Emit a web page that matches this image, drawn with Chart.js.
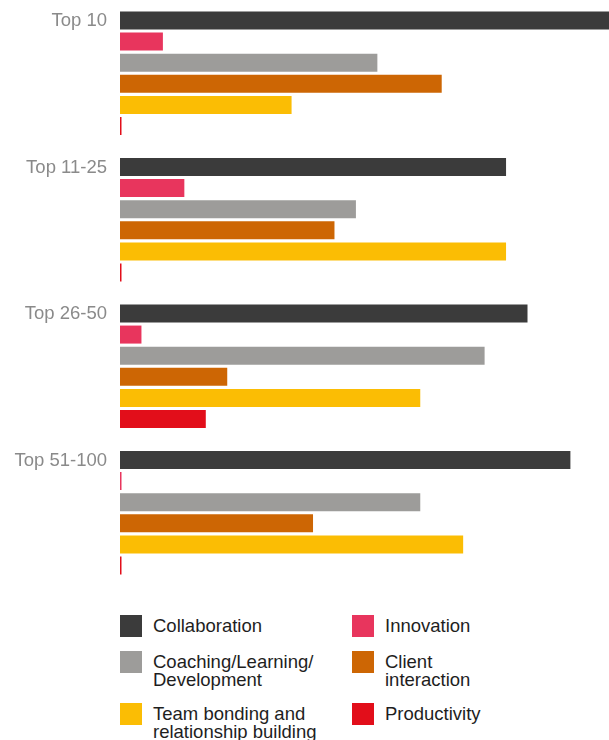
<!DOCTYPE html>
<html>
<head>
<meta charset="utf-8">
<script src="https://cdn.jsdelivr.net/npm/chart.js@4/dist/chart.umd.min.js"></script>
<style>
  body { margin: 0; background: #fff; width: 609px; height: 740px; overflow: hidden; font-family: "Liberation Sans", Arial, sans-serif; }
  #wrap { position: absolute; left: 0; top: 0; width: 609px; height: 586px; }
  #legend { position: absolute; left: 120px; top: 615px; display: grid; grid-template-columns: 232px 240px; row-gap: 14px; }
  .item { display: flex; align-items: flex-start; }
  .sw { width: 22px; height: 22px; flex: none; margin-right: 11px; }
  .txt { font-size: 18.5px; line-height: 18px; padding-top: 2px; color: #1e1e1e; }
</style>
</head>
<body>
<div id="wrap"><canvas id="barChart"></canvas></div>
<div id="legend"></div>
<script>
var groups = ["Top 10", "Top 11-25", "Top 26-50", "Top 51-100"];
var seriesNames = ["Collaboration", "Innovation", "Coaching/Learning/\nDevelopment", "Client\ninteraction", "Team bonding and\nrelationship building", "Productivity"];
var seriesColors = ["#3b3b3b", "#e8355d", "#9d9c9a", "#cd6604", "#fbbd04", "#e20e1a"];
var collaboration = [23, 18, 19, 21];
var innovation = [2, 3, 1, 0];
var coaching = [12, 11, 17, 14];
var client = [15, 10, 5, 9];
var teamBonding = [8, 18, 14, 16];
var productivity = [0, 0, 4, 0];
var seriesValues = [collaboration, innovation, coaching, client, teamBonding, productivity];

var datasets = seriesNames.map(function (name, i) {
  return {
    label: name.replace("\n", " "),
    data: seriesValues[i],
    backgroundColor: seriesColors[i],
    borderWidth: 0,
    minBarLength: 1.5
  };
});

new Chart(document.getElementById("barChart"), {
  type: "bar",
  data: { labels: groups, datasets: datasets },
  options: {
    indexAxis: "y",
    responsive: true,
    maintainAspectRatio: false,
    animation: false,
    categoryPercentage: 0.865,
    barPercentage: 0.853,
    layout: { padding: 0 },
    plugins: { legend: { display: false }, tooltip: { enabled: false } },
    scales: {
      x: { display: false, min: 0, max: 22.8 },
      y: {
        grid: { display: false, drawTicks: false },
        border: { display: false },
        afterFit: function (axis) {
          axis.width = 120;
          axis.paddingTop = 0;
          axis.paddingBottom = 0;
        },
        ticks: {
          padding: 13,
          labelOffset: -52,
          color: "#8a8a8a",
          font: { family: "Liberation Sans, Arial, sans-serif", size: 18.5 }
        }
      }
    }
  }
});

// legend, 2 columns
var leg = document.getElementById("legend");
seriesNames.forEach(function (name, i) {
  var it = document.createElement("div");
  it.className = "item";
  var sw = document.createElement("div");
  sw.className = "sw";
  sw.style.background = seriesColors[i];
  var tx = document.createElement("div");
  tx.className = "txt";
  tx.innerHTML = name.replace("\n", "<br>");
  it.appendChild(sw);
  it.appendChild(tx);
  leg.appendChild(it);
});
</script>
</body>
</html>
